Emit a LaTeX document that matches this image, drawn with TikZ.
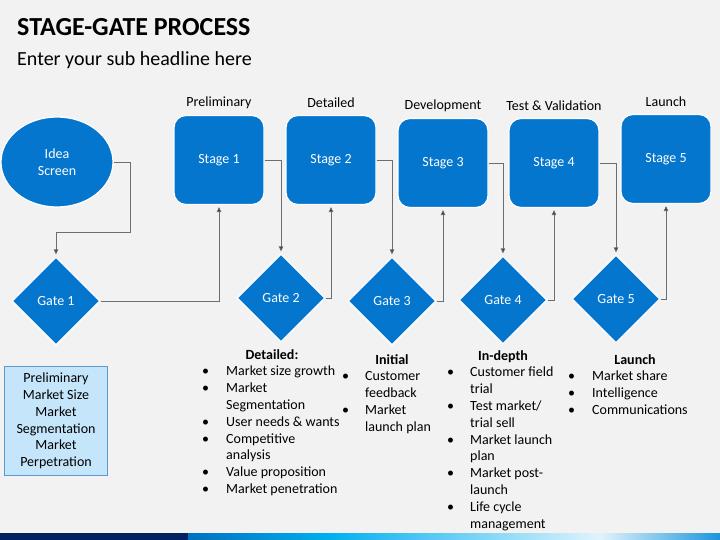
\documentclass[tikz,border=0pt]{standalone}
\usepackage{fontspec}
\setmainfont{Carlito}
\usetikzlibrary{arrows.meta,shapes.geometric}
\definecolor{bggray}{RGB}{242,242,242}
\definecolor{stageblue}{RGB}{5,118,206}
\definecolor{paleblue}{RGB}{197,229,251}
\definecolor{paleedge}{RGB}{91,155,213}
\definecolor{linkgray}{RGB}{110,110,110}
\definecolor{navy}{RGB}{0,32,96}
\definecolor{barblue}{RGB}{0,112,192}
\definecolor{barcyan}{RGB}{0,176,240}
\definecolor{barpale}{RGB}{225,243,252}
\definecolor{barend}{RGB}{27,150,220}

\begin{document}
\begin{tikzpicture}[x=1pt,y=-1pt,font=\fontsize{14}{16.8}\selectfont]
		\tikzstyle{stagebox}=[rectangle,rounded corners=12pt,minimum width=90pt,minimum height=89pt,fill=stageblue,draw=white,line width=1.2pt,text=white]
		\tikzstyle{gate}=[diamond,minimum width=88pt,minimum height=88pt,inner sep=0pt,fill=stageblue,draw=white,line width=1.2pt,text=white]
		\tikzstyle{phase}=[inner sep=0pt]
		\tikzstyle{link}=[linkgray,line width=0.9pt,shorten >=2pt,-{Triangle[length=5pt,width=4.5pt,fill=black]}]
		\tikzstyle{head}=[anchor=base,inner sep=0pt,font=\fontsize{14}{16.8}\selectfont\bfseries]
		\tikzstyle{blist}=[anchor=north west,inner sep=0pt]
		\useasboundingbox (0,0) rectangle (720,540);
		\fill[bggray] (0,0) rectangle (720,540);
		
		% titles
		\node[anchor=base west,inner sep=0pt,font=\fontsize{26}{30}\selectfont\bfseries] (title) at (17,36) {STAGE-GATE PROCESS};
		\node[anchor=base west,inner sep=0pt,font=\fontsize{20}{24}\selectfont] (subtitle) at (17,66) {Enter your sub headline here};
		
		% shapes
		\node[ellipse,minimum width=112pt,minimum height=90pt,fill=stageblue,draw=white,line width=1.2pt,text=white,align=center] (idea) at (57,162) {Idea\\Screen};
		\foreach \i/\x/\y/\lbl in {1/219/160/Preliminary,2/331/160/Detailed,3/443/163/Development,4/554/163/Test \& Validation,5/666/159/Launch}{
			\node[stagebox] (s\i) at (\x,\y) {Stage \i};
			\node[phase] (ph\i) at ([yshift=12pt]s\i.north) {\lbl};
		};
		\foreach \i/\x/\y in {1/56/301,2/281/298,3/392/301,4/503/300,5/616/299}
			\node[gate] (g\i) at (\x,\y) {Gate \i};
		
		% connectors
		\coordinate (bend) at (130,232);
		\draw[link] (idea.east) -| (bend) -| (g1.north);
		\foreach \i in {1,...,5}
			\draw[link] (g\i.east) -| (s\i.south);
		\foreach \i/\j in {1/2,2/3,3/4,4/5}
			\draw[link] (s\i.east) -| (g\j.north);
		
		% notes
		\node[rectangle,minimum width=103pt,minimum height=109pt,fill=paleblue,draw=paleedge,line width=0.8pt,align=center] (prelim) at (56,421)
			{Preliminary\\Market Size\\Market\\Segmentation\\Market\\Perpetration};
		
		\node[head] (hd2) at (272,359) {Detailed:};
		\node[blist] (l2) at (202,364) {\begin{tabular}{@{}p{24pt}@{}l@{}}
			\textbullet & Market size growth\\
			\textbullet & Market\\
			& Segmentation\\
			\textbullet & User needs \& wants\\
			\textbullet & Competitive\\
			& analysis\\
			\textbullet & Value proposition\\
			\textbullet & Market penetration
		\end{tabular}};
		
		\node[head] (hd3) at (392,364) {Initial};
		\node[blist] (l3) at (342,369) {\begin{tabular}{@{}p{23pt}@{}l@{}}
			\textbullet & Customer\\
			& feedback\\
			\textbullet & Market\\
			& launch plan
		\end{tabular}};
		
		\node[head] (hd4) at (503,360) {In-depth};
		\node[blist] (l4) at (447,365) {\begin{tabular}{@{}p{23pt}@{}l@{}}
			\textbullet & Customer field\\
			& trial\\
			\textbullet & Test market/\\
			& trial sell\\
			\textbullet & Market launch\\
			& plan\\
			\textbullet & Market post-\\
			& launch\\
			\textbullet & Life cycle\\
			& management
		\end{tabular}};
		
		\node[head] (hd5) at (635,364) {Launch};
		\node[blist] (l5) at (568,369) {\begin{tabular}{@{}p{24pt}@{}l@{}}
			\textbullet & Market share\\
			\textbullet & Intelligence\\
			\textbullet & Communications
		\end{tabular}};
		
		% bottom bar
		\fill[navy] (0,533) rectangle (188,540);
		\shade[left color=barblue,right color=barcyan] (188,533) rectangle (330,540);
		\shade[left color=barcyan,right color=barpale] (330,533) rectangle (600,540);
		\shade[left color=barpale,right color=barend] (600,533) rectangle (720,540);
	\end{tikzpicture}
\end{document}
